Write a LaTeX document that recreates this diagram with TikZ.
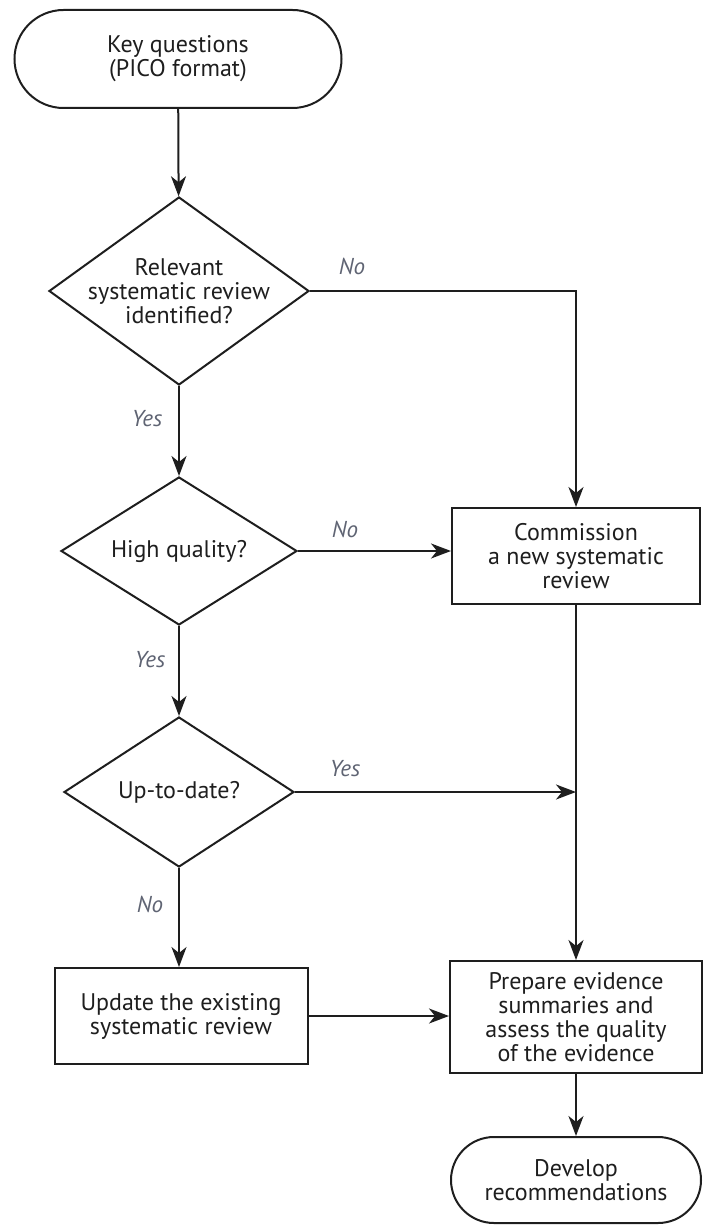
\documentclass[tikz,border=0pt]{standalone}
\usepackage{fontspec}
\setmainfont{PT Sans}
\usetikzlibrary{shapes.geometric,shapes.misc,arrows.meta}
\definecolor{labgray}{RGB}{95,100,115}
\definecolor{ink}{RGB}{30,30,30}
\begin{document}
\begin{tikzpicture}[x=1pt,y=-1pt,
  every node/.style={font=\fontsize{24}{24}\selectfont, align=center, text=ink},
  line/.style={line width=2pt, draw=ink},
  arr/.style={line, -{Stealth[length=20pt,width=15pt,inset=6pt]}},
  term/.style={rounded rectangle, draw=ink, line width=2pt, inner sep=0pt},
  dec/.style={diamond, draw=ink, line width=2pt, inner sep=0pt},
  proc/.style={rectangle, draw=ink, line width=2pt, inner sep=0pt},
  lab/.style={font=\fontsize{23}{24}\selectfont\itshape, text=labgray}
]
\useasboundingbox (0,0) rectangle (702,1225);

% nodes
\node[term, minimum width=327pt, minimum height=98pt] (t1) at (178,59)
  {Key questions\\(PICO format)};
\node[dec, minimum width=260pt, minimum height=188pt,
  label={[align=center]center:Relevant\\systematic review\\identified?}] (d1) at (179,291) {};
\node[dec, minimum width=236pt, minimum height=148pt,
  label={center:High quality?}] (d2) at (179,551) {};
\node[dec, minimum width=230pt, minimum height=150pt,
  label={center:Up-to-date?}] (d3) at (179,792) {};
\node[proc, minimum width=248pt, minimum height=96pt] (c1) at (576,556)
  {Commission\\a new systematic\\review};
\node[proc, minimum width=253pt, minimum height=96pt] (u1) at (181,1016)
  {Update the existing\\systematic review};
\node[proc, minimum width=252pt, minimum height=112pt] (p2) at (576,1017)
  {Prepare evidence\\summaries and\\assess the quality\\of the evidence};
\node[term, minimum width=250pt, minimum height=86pt] (t2) at (576,1180)
  {Develop\\recommendations};

% connectors
\draw[arr] (t1) -- (d1);
\draw[arr] (d1.east) -| (c1.north);
\draw[arr] (d1) -- (d2);
\draw[arr] (d2.east) -- (d2.east -| c1.west);
\draw[arr] (d2) -- (d3);
\draw[arr] (d3.east) -- (d3.east -| c1.south);
\draw[arr] (c1) -- (p2);
\draw[arr] (d3) -- (d3.south |- u1.north);
\draw[arr] (u1) -- (u1.east -| p2.west);
\draw[arr] (p2) -- (t2);

% labels
\node[lab] (l1) at (352,266) {No};
\node[lab] (l2) at (147,419) {Yes};
\node[lab] (l3) at (345,529) {No};
\node[lab] (l4) at (150,660) {Yes};
\node[lab] (l5) at (345,769) {Yes};
\node[lab] (l6) at (150,904) {No};
\end{tikzpicture}
\end{document}
